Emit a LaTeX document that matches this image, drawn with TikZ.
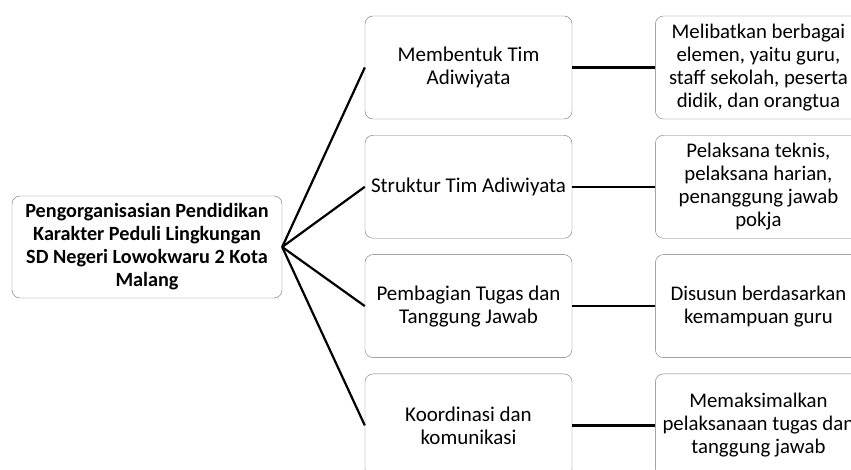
\documentclass[tikz,border=0pt]{standalone}
\usepackage{fontspec}
\setmainfont{Carlito}
\usetikzlibrary{positioning}
\tikzstyle{rootbox}=[draw=black!55,thin,rounded corners=8pt,fill=white,align=center,minimum width=270pt,minimum height=102pt,inner sep=0pt,font=\fontsize{20.2}{23}\selectfont\bfseries]
\tikzstyle{midbox}=[draw=black!55,thin,rounded corners=8pt,fill=white,align=center,minimum width=207pt,minimum height=103pt,inner sep=0pt,font=\fontsize{21}{23}\selectfont]
\tikzstyle{notebox}=[draw=black!55,thin,rounded corners=8pt,fill=white,align=center,minimum width=206pt,minimum height=103pt,inner sep=0pt,font=\fontsize{20.8}{23}\selectfont]
\tikzstyle{undirectededge} = [draw,line width=2.2pt]

\begin{document}
\begin{tikzpicture}[x=1pt,y=-1pt]

	\clip (0,0) rectangle (851,470);

	\def\dy{119.3};

%root
	\node[rootbox] (root) at (147,247) {Pengorganisasian Pendidikan\\Karakter Peduli Lingkungan\\SD Negeri Lowokwaru 2 Kota\\Malang};

%layer 1
	\foreach \pos/\name/\label in {{(468.5,67.5)/m1/{Membentuk Tim\\Adiwiyata}}, {(468.5,67.5+\dy)/m2/{Struktur Tim Adiwiyata}}, {(468.5,67.5+2*\dy)/m3/{Pembagian Tugas dan\\Tanggung Jawab}}, {(468.5,67.5+3*\dy)/m4/{Koordinasi dan\\komunikasi}}}
		\node[midbox] (\name) at \pos {\label};

%layer 2
	\foreach \src/\name/\label in {{m1/n1/{Melibatkan berbagai\\elemen, yaitu guru,\\staff sekolah, peserta\\didik, dan orangtua}}, {m2/n2/{Pelaksana teknis,\\pelaksana harian,\\penanggung jawab\\pokja}}, {m3/n3/{Disusun berdasarkan\\kemampuan guru}}, {m4/n4/{Memaksimalkan\\pelaksanaan tugas dan\\tanggung jawab}}}
		\node[notebox, right=83pt of \src] (\name) {\label};

% Edges
	\foreach \dest in {m1,m2,m3,m4}
		\path[undirectededge] (root.east) -- (\dest.west);

	\foreach \source/\dest in {m1/n1, m2/n2, m3/n3, m4/n4}
		\path[undirectededge] (\source.east) -- (\dest.west);

\end{tikzpicture}
\end{document}
